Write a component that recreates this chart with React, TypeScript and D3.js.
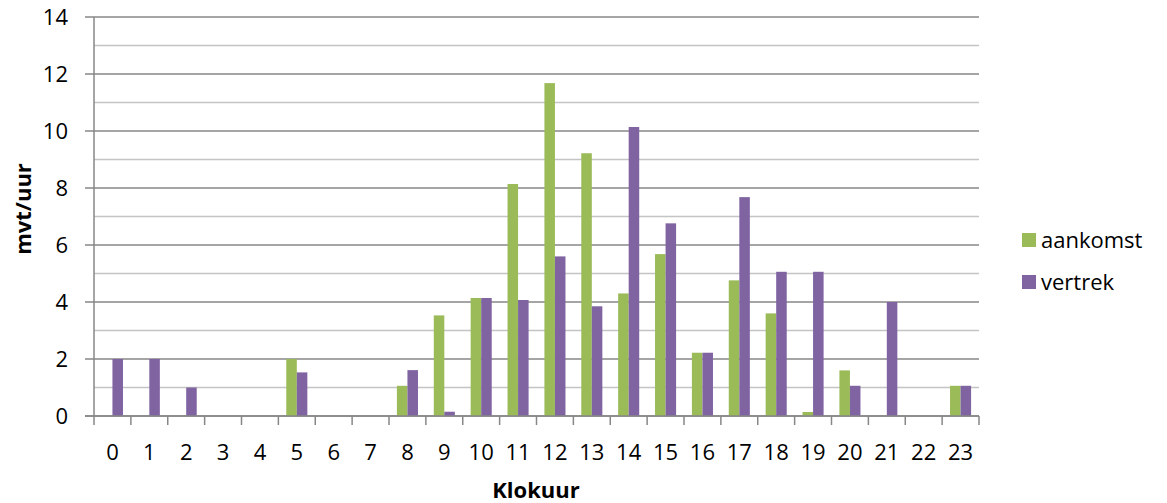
import React from "react";
import * as d3 from "d3";

const hours: string[] = Array.from({ length: 24 }, (_, i) => String(i));
const aankomst: number[] = [0, 0, 0, 0, 0, 2, 0, 0, 1.06, 3.53, 4.14, 8.14, 11.68, 9.22, 4.3, 5.68, 2.22, 4.76, 3.6, 0.14, 1.6, 0, 0, 1.06];
const vertrek: number[] = [2, 2, 1, 0, 0, 1.53, 0, 0, 1.61, 0.15, 4.14, 4.07, 5.6, 3.85, 10.14, 6.76, 2.22, 7.68, 5.06, 5.06, 1.06, 4.0, 0, 1.06];
const seriesNames: string[] = ["aankomst", "vertrek"];
const seriesColors: string[] = ["#9BBB59", "#8064A2"];
const yTicks: number[] = [0, 2, 4, 6, 8, 10, 12, 14];
const yMinor: number[] = [1, 3, 5, 7, 9, 11, 13];

const W = 1167;
const H = 503;
const L = 94;
const R = 979;
const T = 17;
const B = 416;
const FONT = "'Open Sans', 'Liberation Sans', sans-serif";

export default function App() {
  const x = d3.scaleBand<string>().domain(hours).range([L, R]).paddingInner(0).paddingOuter(0);
  const x1 = d3.scaleBand<string>().domain(seriesNames).range([0, x.bandwidth()]).paddingInner(0).paddingOuter(0.75);
  const y = d3.scaleLinear().domain([0, 14]).range([B, T]);
  const data = [aankomst, vertrek];
  const boundaries = d3.range(hours.length + 1).map((i) => L + i * x.step());

  return (
    <svg width={W} height={H} style={{ position: "absolute", left: 0, top: 0, background: "#fff" }} fontFamily={FONT}>
      {yMinor.map((v) => (
        <line key={"m" + v} x1={L} x2={R} y1={y(v)} y2={y(v)} stroke="#c4c4c4" strokeWidth={1.5} />
      ))}
      {yTicks.map((v) => (
        <line key={"g" + v} x1={85} x2={R} y1={y(v)} y2={y(v)} stroke="#878787" strokeWidth={1.5} />
      ))}
      {data.map((vals, si) =>
        vals.map((v, i) =>
          v > 0 ? (
            <rect
              key={si + "-" + i}
              x={(x(hours[i]) as number) + (x1(seriesNames[si]) as number)}
              y={y(v)}
              width={x1.bandwidth()}
              height={y(0) - y(v)}
              fill={seriesColors[si]}
            />
          ) : null
        )
      )}
      <line x1={L} x2={L} y1={T} y2={B} stroke="#878787" strokeWidth={1.5} />
      <line x1={85} x2={R} y1={B} y2={B} stroke="#878787" strokeWidth={1.5} />
      {boundaries.map((bx, i) => (
        <line key={"t" + i} x1={bx} x2={bx} y1={B} y2={425} stroke="#878787" strokeWidth={1.5} />
      ))}
      {yTicks.map((v) => (
        <text key={"yl" + v} x={68} y={y(v)} dy="0.35em" textAnchor="end" fontSize={22} fill="#000">
          {v}
        </text>
      ))}
      {hours.map((h) => (
        <text key={"xl" + h} x={(x(h) as number) + x.bandwidth() / 2} y={452} dy="0.35em" textAnchor="middle" fontSize={22} fill="#000">
          {h}
        </text>
      ))}
      <text x={536} y={498} textAnchor="middle" fontSize={22} fontWeight="bold" fill="#000">
        Klokuur
      </text>
      <text transform="translate(31,209) rotate(-90)" textAnchor="middle" fontSize={22} fontWeight="bold" fill="#000">
        mvt/uur
      </text>
      {seriesNames.map((s, i) => (
        <g key={"lg" + s} transform={`translate(1022, ${233 + i * 42})`}>
          <rect x={0} y={0} width={14} height={14} fill={seriesColors[i]} />
          <text x={19} y={7} dy="0.35em" fontSize={22} fill="#000">
            {s}
          </text>
        </g>
      ))}
    </svg>
  );
}
